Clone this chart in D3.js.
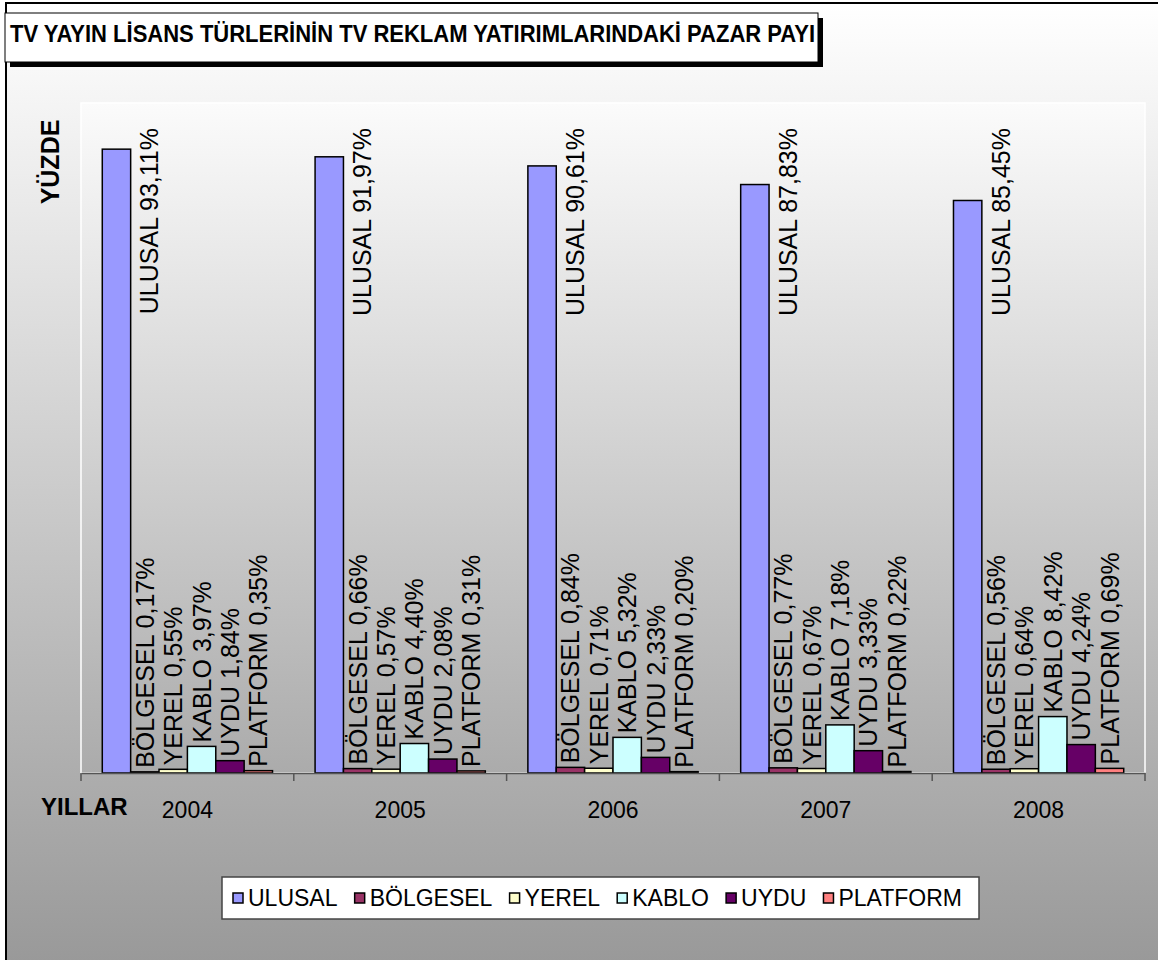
<!DOCTYPE html>
<html>
<head>
<meta charset="utf-8">
<script src="https://cdn.jsdelivr.net/npm/d3@7"></script>
<style>
  html, body { margin: 0; padding: 0; background: #ffffff; }
  svg { display: block; font-family: "Liberation Sans", Arial, sans-serif; }
</style>
</head>
<body>
<svg id="chart" width="1158" height="960"></svg>
<script>
// Market share of TV licence types in TV advertising investment (%)
const years = ["2004", "2005", "2006", "2007", "2008"];
const seriesNames = ["ULUSAL", "BÖLGESEL", "YEREL", "KABLO", "UYDU", "PLATFORM"];
const ulusal   = [93.11, 91.97, 90.61, 87.83, 85.45];
const bolgesel = [0.17, 0.66, 0.84, 0.77, 0.56];
const yerel    = [0.55, 0.57, 0.71, 0.67, 0.64];
const kablo    = [3.97, 4.40, 5.32, 7.18, 8.42];
const uydu     = [1.84, 2.08, 2.33, 3.33, 4.24];
const platform = [0.35, 0.31, 0.20, 0.22, 0.69];
const seriesValues = [ulusal, bolgesel, yerel, kablo, uydu, platform];
const seriesColors = ["#9999FF", "#993366", "#FFFFCC", "#CCFFFF", "#660066", "#FF8080"];
const yDomain = [0, 100];

const titleText = "TV YAYIN LİSANS TÜRLERİNİN TV REKLAM YATIRIMLARINDAKİ PAZAR PAYI";

const svg = d3.select("#chart");
const W = 1158, H = 960;
const plot = { left: 81, right: 1145, top: 103, bottom: 773 };

// background gradients
const defs = svg.append("defs");
const bg = defs.append("linearGradient").attr("id", "bgGrad")
  .attr("x1", 0).attr("y1", 0).attr("x2", 0).attr("y2", 1);
bg.append("stop").attr("offset", "0%").attr("stop-color", "#ffffff");
bg.append("stop").attr("offset", "100%").attr("stop-color", "#999999");
const pg = defs.append("linearGradient").attr("id", "plotGrad")
  .attr("x1", 0).attr("y1", 0).attr("x2", 0).attr("y2", 1);
pg.append("stop").attr("offset", "0%").attr("stop-color", "#fbfbfb");
pg.append("stop").attr("offset", "100%").attr("stop-color", "#ababab");

svg.append("rect").attr("x", 6).attr("y", 3).attr("width", W).attr("height", H)
  .attr("fill", "url(#bgGrad)").attr("stroke", "#000").attr("stroke-width", 2);

svg.append("rect")
  .attr("x", plot.left).attr("y", plot.top)
  .attr("width", plot.right - plot.left).attr("height", plot.bottom - plot.top)
  .attr("fill", "url(#plotGrad)").attr("stroke", "#ffffff").attr("stroke-width", 1.5);

// scales
const x0 = d3.scaleBand().domain(years).range([plot.left, plot.right]).paddingInner(0).paddingOuter(0);
const x1 = d3.scaleBand().domain(seriesNames).range([0, x0.bandwidth()]).paddingInner(0).paddingOuter(0.75);
const y = d3.scaleLinear().domain(yDomain).range([plot.bottom, plot.top]);

// flatten
const bars = [];
seriesNames.forEach((s, si) => {
  years.forEach((yr, yi) => {
    bars.push({ series: s, si, year: yr, value: seriesValues[si][yi] });
  });
});

const fmt = v => v.toFixed(2).replace(".", ",") + "%";

// bars
svg.append("g").selectAll("rect").data(bars).join("rect")
  .attr("x", d => x0(d.year) + x1(d.series))
  .attr("y", d => y(d.value))
  .attr("width", x1.bandwidth())
  .attr("height", d => y(0) - y(d.value))
  .attr("fill", d => seriesColors[d.si])
  .attr("stroke", "#000").attr("stroke-width", 1.5);

// category axis
const xAxis = svg.append("g").attr("transform", `translate(0,${plot.bottom})`)
  .call(d3.axisBottom(x0).tickSize(0).tickPadding(0).tickFormat(""));
xAxis.select(".domain").attr("stroke", "#555").attr("stroke-width", 1.5);
xAxis.selectAll(".tick").remove();
const boundaries = years.map(yr => x0(yr)).concat([plot.right]);
xAxis.selectAll("line.sep").data(boundaries).join("line").attr("class", "sep")
  .attr("x1", d => d).attr("x2", d => d).attr("y1", 0).attr("y2", 8)
  .attr("stroke", "#555").attr("stroke-width", 1.5);
xAxis.selectAll("text.yr").data(years).join("text").attr("class", "yr")
  .attr("x", d => x0(d) + x0.bandwidth() / 2).attr("y", 45)
  .attr("text-anchor", "middle").attr("font-size", 23).attr("fill", "#000")
  .text(d => d);

// value labels, rotated
const labels = svg.append("g");
bars.forEach(d => {
  const cx = x0(d.year) + x1(d.series) + x1.bandwidth() / 2;
  const isTall = d.si === 0;
  const lx = isTall ? cx + 33 : cx;
  const ly = isTall ? y(100) + 25 : y(d.value) - 4;
  labels.append("text")
    .attr("transform", `translate(${lx},${ly}) rotate(-90)`)
    .attr("text-anchor", isTall ? "end" : "start")
    .attr("dy", "0.36em")
    .attr("font-size", 25).attr("fill", "#000")
    .text(`${d.series} ${fmt(d.value)}`);
});

// axis titles
svg.append("text")
  .attr("transform", `translate(50,162) rotate(-90)`)
  .attr("text-anchor", "middle").attr("dy", "0.36em")
  .attr("font-size", 25).attr("font-weight", "bold").text("YÜZDE");
svg.append("text").attr("x", 41).attr("y", 815)
  .attr("font-size", 24).attr("font-weight", "bold").text("YILLAR");

// title box with shadow
svg.append("rect").attr("x", 10).attr("y", 18).attr("width", 813).attr("height", 49).attr("fill", "#000");
svg.append("rect").attr("x", 5).attr("y", 13).attr("width", 813).attr("height", 49)
  .attr("fill", "#fff").attr("stroke", "#000").attr("stroke-width", 1);
svg.append("text").attr("x", 10).attr("y", 42)
  .attr("font-size", 24).attr("font-weight", "bold")
  .attr("textLength", 805).attr("lengthAdjust", "spacingAndGlyphs")
  .text(titleText);

// legend: items spread evenly across the box
const lg = svg.append("g");
const legBox = { x: 222, y: 877, w: 757, h: 42 };
lg.append("rect").attr("x", legBox.x).attr("y", legBox.y).attr("width", legBox.w).attr("height", legBox.h)
  .attr("fill", "#fff").attr("stroke", "#444").attr("stroke-width", 1.5);
const items = seriesNames.map((s, i) => {
  const g = lg.append("g");
  g.append("rect").attr("x", 0).attr("y", -13).attr("width", 10).attr("height", 10)
    .attr("fill", seriesColors[i]).attr("stroke", "#000").attr("stroke-width", 1.5);
  const t = g.append("text").attr("x", 15).attr("y", 0).attr("font-size", 23).text(s);
  return { g, w: 15 + t.node().getComputedTextLength() };
});
const legStart = legBox.x + 11, legEnd = legBox.x + legBox.w - 17;
const natural = d3.sum(items, d => d.w);
const gap = (legEnd - legStart - natural) / (items.length - 1);
let cursor = legStart;
items.forEach(it => {
  it.g.attr("transform", `translate(${cursor},906)`);
  cursor += it.w + gap;
});
</script>
</body>
</html>
